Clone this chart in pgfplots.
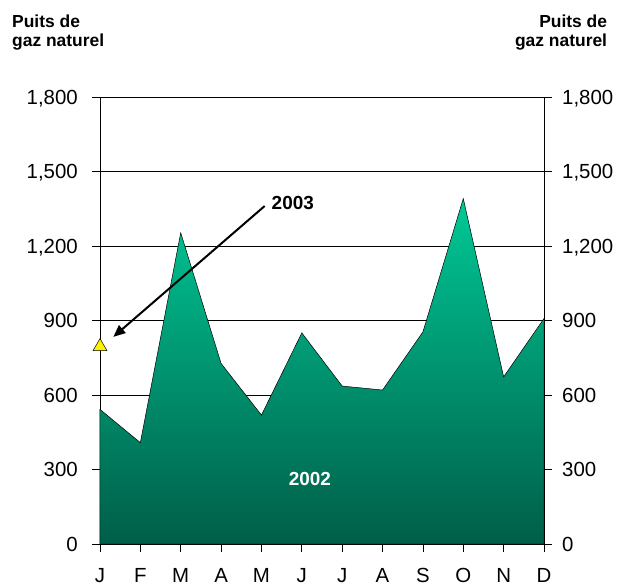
\documentclass[border=0pt]{standalone}
\usepackage{pgfplots}
\pgfplotsset{compat=1.18}
\usepackage{fontspec}
\setmainfont{Liberation Sans}
\usetikzlibrary{arrows.meta}
\definecolor{gtop}{RGB}{0,200,150}
\definecolor{gbot}{RGB}{0,94,72}
\begin{document}
\begin{tikzpicture}
\useasboundingbox (-100bp,-42bp) rectangle (520bp,544bp);
\begin{axis}[
  at={(0,0)}, anchor=south west, scale only axis,
  width=444bp, height=447bp,
  xmin=0, xmax=11, ymin=0, ymax=1800,
  xtick={0,...,11}, xticklabels={J,F,M,A,M,J,J,A,S,O,N,D},
  ytick={0,300,...,1800},
  ymajorgrids, grid style={black, line width=0.6bp},
  axis line style={black, line width=0.8bp},
  tick style={black, line width=0.8bp},
  tick align=outside, major tick length=8bp,
  xtick pos=bottom, ytick pos=both, yticklabel pos=left,
  /pgf/number format/1000 sep={,},
  /pgf/number format/assume math mode=true,
  yticklabel style={font=\fontsize{20.5}{24}\selectfont, anchor=base east, inner sep=0pt, yshift=-7.3bp, xshift=-14bp},
  xticklabel style={font=\fontsize{20.5}{24}\selectfont, anchor=base, inner sep=0pt, yshift=-30bp},
  clip=false,
]
\addplot[draw=black, line width=0.5bp, top color=gtop, bottom color=gbot]
  coordinates {(0,542)(1,408)(2,1253)(3,727)(4,519)(5,850)(6,636)(7,620)(8,854)(9,1391)(10,673)(11,908)} \closedcycle;
\addplot[only marks, mark=triangle*, mark size=8bp, mark options={fill=yellow, draw=black, line width=0.5bp}]
  coordinates {(0,795)};
\draw[line width=2bp, -{Triangle[length=12bp,width=10bp]}] (axis cs:4.08,1361) -- (axis cs:0.33,834);
\node[anchor=base west, inner sep=0pt, font=\bfseries\fontsize{19}{22}\selectfont] at (axis cs:4.25,1348) {2003};
\node[anchor=base, inner sep=0pt, text=white, font=\bfseries\fontsize{19}{22}\selectfont] at (axis cs:5.2,235) {2002};
\end{axis}
\begin{axis}[
  at={(0,0)}, anchor=south west, scale only axis,
  width=444bp, height=447bp,
  xmin=0, xmax=11, ymin=0, ymax=1800,
  axis x line=none, axis y line*=right,
  ytick={0,300,...,1800},
  axis line style={black, line width=0.8bp},
  major tick length=0bp,
  /pgf/number format/1000 sep={,},
  /pgf/number format/assume math mode=true,
  yticklabel style={font=\fontsize{20.5}{24}\selectfont, anchor=base west, inner sep=0pt, yshift=-7.3bp, xshift=18bp},
]
\end{axis}
\node[anchor=base west, inner sep=0pt, font=\bfseries\fontsize{17.5}{20}\selectfont] at (-88bp,516bp) {Puits de};
\node[anchor=base west, inner sep=0pt, font=\bfseries\fontsize{17.5}{20}\selectfont] at (-88bp,497bp) {gaz naturel};
\node[anchor=base east, inner sep=0pt, font=\bfseries\fontsize{17.5}{20}\selectfont] at (507.3bp,516bp) {Puits de};
\node[anchor=base east, inner sep=0pt, font=\bfseries\fontsize{17.5}{20}\selectfont] at (507.3bp,497bp) {gaz naturel};
\end{tikzpicture}
\end{document}
